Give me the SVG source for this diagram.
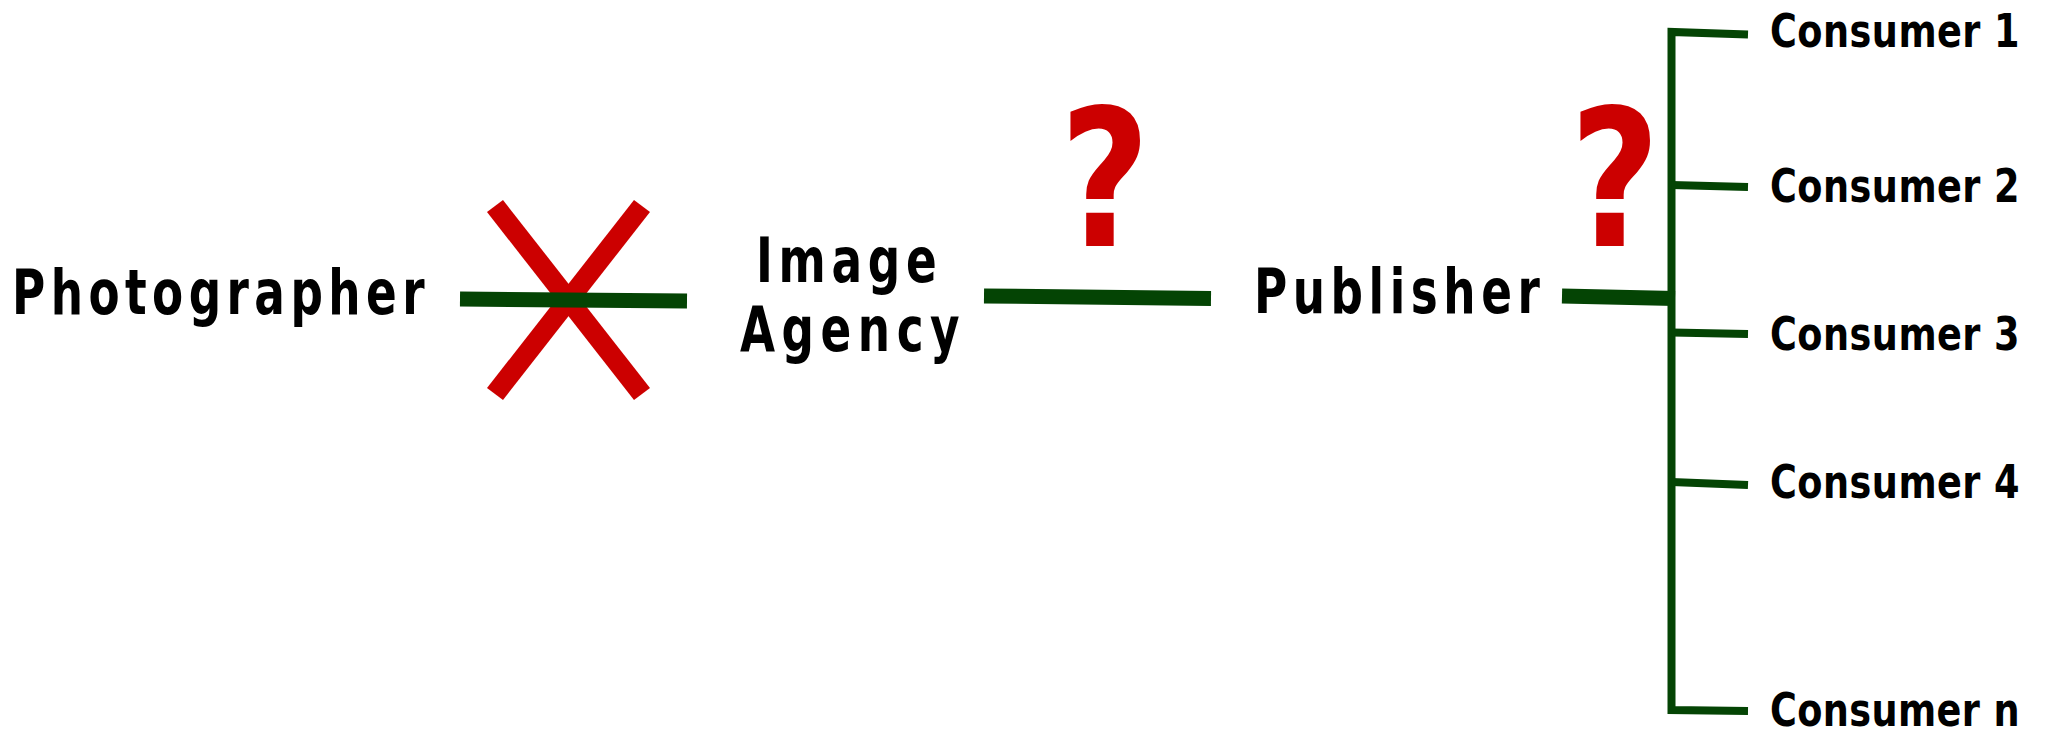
<svg xmlns="http://www.w3.org/2000/svg" width="2049" height="732" viewBox="0 0 2049 732">
<style>
.lbl{font-family:"DejaVu Sans","Liberation Sans",sans-serif;font-weight:bold;fill:#000;}
.big{font-size:63px;}
.cons{font-size:47px;}
.q{font-family:"DejaVu Sans","Liberation Sans",sans-serif;font-weight:bold;font-size:190px;fill:#cc0000;text-anchor:middle;}
.thick{stroke:#044404;stroke-width:15;stroke-linecap:butt;fill:none;}
.thin{stroke:#044404;stroke-width:8;stroke-linecap:butt;stroke-linejoin:miter;fill:none;}
.cross{fill:#cc0000;}
</style>
<rect width="2049" height="732" fill="#fff"/>
<g id="annotations">
<polygon class="cross" points="487,212 503,200 650,388 634,400"/>
<polygon class="cross" points="634,200 650,212 503,400 487,388"/>
<text class="q" transform="translate(1105,246) scale(0.82,1)" x="0" y="0">?</text>
<text class="q" transform="translate(1615,246) scale(0.82,1)" x="0" y="0">?</text>
</g>
<g id="connectors">
<line class="thick" x1="460" y1="299" x2="687" y2="301"/>
<line class="thick" x1="984" y1="296" x2="1211" y2="298.5"/>
<line class="thick" x1="1562" y1="296" x2="1675" y2="298.5"/>
<polyline class="thin" points="1748,34.5 1671.5,32 1671.5,710 1748,711"/>
<line class="thin" x1="1671.5" y1="185" x2="1748" y2="187"/>
<line class="thin" x1="1671.5" y1="332.5" x2="1748" y2="334"/>
<line class="thin" x1="1671.5" y1="482" x2="1748" y2="485"/>
</g>
<g id="photographer">
<text class="lbl big" transform="translate(12,314) scale(0.72,1)" textLength="573" lengthAdjust="spacing">Photographer</text>
</g>
<g id="image-agency">
<text class="lbl big" transform="translate(756,282) scale(0.72,1)" textLength="251" lengthAdjust="spacing">Image</text>
<text class="lbl big" transform="translate(740,351) scale(0.72,1)" textLength="305" lengthAdjust="spacing">Agency</text>
</g>
<g id="publisher">
<text class="lbl big" transform="translate(1254,313) scale(0.72,1)" textLength="397" lengthAdjust="spacing">Publisher</text>
</g>
<g id="consumer-1"><text class="lbl cons" transform="translate(1770,47) scale(0.78,1)" textLength="320" lengthAdjust="spacing">Consumer 1</text></g>
<g id="consumer-2"><text class="lbl cons" transform="translate(1770,202) scale(0.78,1)" textLength="320" lengthAdjust="spacing">Consumer 2</text></g>
<g id="consumer-3"><text class="lbl cons" transform="translate(1770,350) scale(0.78,1)" textLength="320" lengthAdjust="spacing">Consumer 3</text></g>
<g id="consumer-4"><text class="lbl cons" transform="translate(1770,498) scale(0.78,1)" textLength="320" lengthAdjust="spacing">Consumer 4</text></g>
<g id="consumer-n"><text class="lbl cons" transform="translate(1770,726) scale(0.78,1)" textLength="320" lengthAdjust="spacing">Consumer n</text></g>
</svg>
